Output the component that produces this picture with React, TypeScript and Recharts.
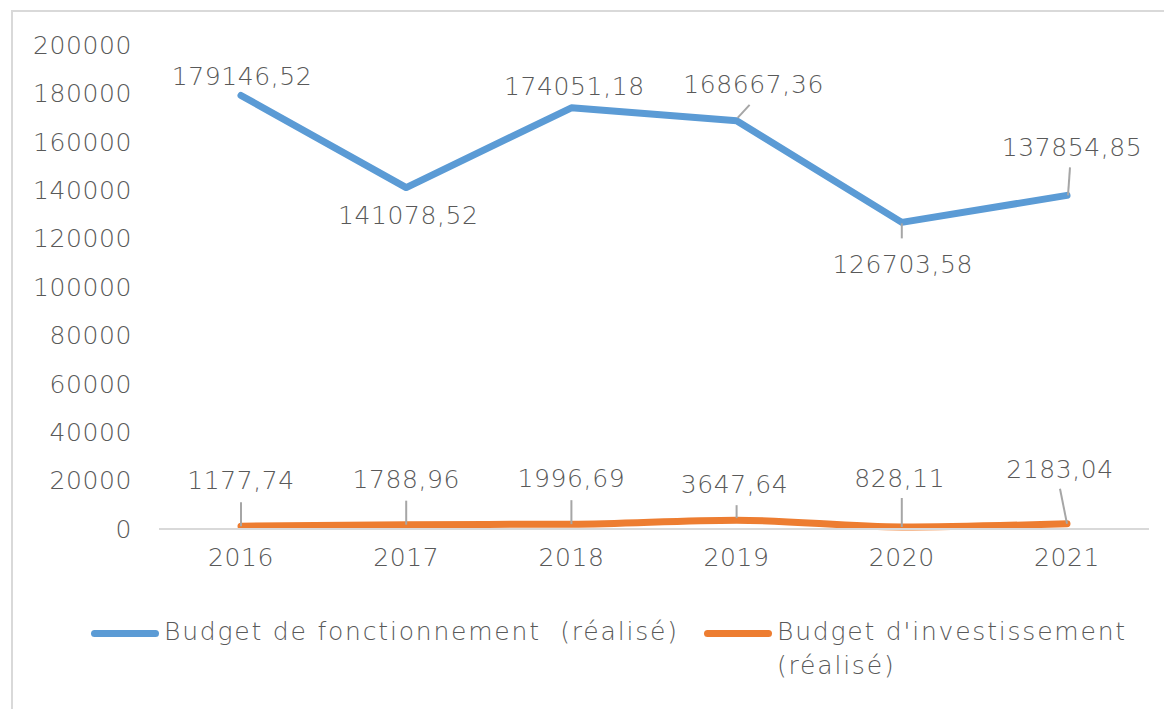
import { LineChart, Line, XAxis, YAxis } from "recharts";

const years = ["2016", "2017", "2018", "2019", "2020", "2021"];
const fonctionnement = [179146.52, 141078.52, 174051.18, 168667.36, 126703.58, 137854.85];
const investissement = [1177.74, 1788.96, 1996.69, 3647.64, 828.11, 2183.04];
const seriesNames = ["Budget de fonctionnement  (réalisé)", "Budget d'investissement (réalisé)"];
const yTicks = [0, 20000, 40000, 60000, 80000, 100000, 120000, 140000, 160000, 180000, 200000];

const BLUE = "#5B9BD5";
const ORANGE = "#ED7D31";
const TEXT = "#595959";
const LEADER = "#a6a6a6";
const FONT = "'DejaVu Sans', sans-serif";

const data = years.map((year, i) => ({
  year,
  fonctionnement: fonctionnement[i],
  investissement: investissement[i],
}));

// label placement per point: text offset + optional leader line (relative to point)
type Place = { dx: number; dy: number; leader?: [number, number, number, number] };

const bluePlaces: Place[] = [
  { dx: 1, dy: -10 },
  { dx: 2, dy: 36 },
  { dx: 3, dy: -13 },
  { dx: 17, dy: -28, leader: [1, -3, 13, -16] },
  { dx: 1, dy: 51, leader: [0, 1, 0, 16] },
  { dx: 5, dy: -39, leader: [1, 0, 3, -28] },
];

const orangePlaces: Place[] = [
  { dx: 0, dy: -37, leader: [0, 0, 0, -24] },
  { dx: 0, dy: -37, leader: [0, 0, 0, -24] },
  { dx: 0, dy: -37, leader: [0, 0, 0, -24] },
  { dx: -2, dy: -27, leader: [0, -2, 0, -15] },
  { dx: -2, dy: -40, leader: [0, 0, 0, -29] },
  { dx: -7, dy: -46, leader: [0, 0, -7, -35] },
];

const fmt = (v: number) => v.toFixed(2).replace(".", ",");

const makeLabel = (places: Place[]) => (props: any) => {
  const { x, y, index, value } = props;
  const p = places[index];
  return (
    <g key={`lbl-${index}`}>
      {p.leader && (
        <line
          x1={x + p.leader[0]}
          y1={y + p.leader[1]}
          x2={x + p.leader[2]}
          y2={y + p.leader[3]}
          stroke={LEADER}
          strokeWidth={2}
        />
      )}
      <text
        x={x + p.dx}
        y={y + p.dy}
        textAnchor="middle"
        fill={TEXT}
        fontSize={25}
        fontFamily={FONT}
        fontWeight={300}
        letterSpacing={0.6}
      >
        {fmt(value)}
      </text>
    </g>
  );
};

const LegendItem = ({ color, name, width }: { color: string; name: string; width: number }) => (
  <div style={{ display: "flex", alignItems: "flex-start" }}>
    <div
      style={{
        width: 68,
        height: 7,
        borderRadius: 4,
        background: color,
        marginTop: 15,
        marginRight: 5,
      }}
    />
    <div style={{ width, whiteSpace: "pre-wrap", lineHeight: "34px", letterSpacing: 1.8 }}>{name}</div>
  </div>
);

const tickStyle = { fill: TEXT, fontSize: 25, fontFamily: FONT, fontWeight: 300, letterSpacing: 0.6 };

export default function App() {
  return (
    <div
      style={{
        position: "relative",
        marginLeft: 3,
        marginTop: 2,
        width: 1170,
        height: 720,
        border: "2px solid #d9d9d9",
        boxSizing: "border-box",
        fontFamily: FONT,
        fontWeight: 300,
        color: TEXT,
        fontSize: 25,
      }}
    >
      <div style={{ position: "absolute", left: 0, top: 0 }}>
        <LineChart
          width={1150}
          height={577}
          data={data}
          margin={{ top: 33, right: 14, bottom: 0, left: 0 }}
        >
          <XAxis
            dataKey="year"
            axisLine={{ stroke: "#d9d9d9", strokeWidth: 2 }}
            tickLine={false}
            tickMargin={13}
            height={60}
            padding={{ left: 82, right: 82 }}
            tick={tickStyle}
          />
          <YAxis
            domain={[0, 200000]}
            ticks={yTicks}
            interval={0}
            axisLine={false}
            tickLine={false}
            width={146}
            tickMargin={21}
            tick={tickStyle}
          />
          <Line
            type="linear"
            dataKey="fonctionnement"
            name={seriesNames[0]}
            stroke={BLUE}
            strokeWidth={7}
            strokeLinecap="round"
            strokeLinejoin="round"
            dot={false}
            isAnimationActive={false}
            label={makeLabel(bluePlaces)}
          />
          <Line
            type="monotone"
            dataKey="investissement"
            name={seriesNames[1]}
            stroke={ORANGE}
            strokeWidth={7}
            strokeLinecap="round"
            strokeLinejoin="round"
            dot={false}
            isAnimationActive={false}
            label={makeLabel(orangePlaces)}
          />
        </LineChart>
      </div>
      <div style={{ position: "absolute", left: 78, top: 603 }}>
        <LegendItem color={BLUE} name={seriesNames[0]} width={560} />
      </div>
      <div style={{ position: "absolute", left: 691, top: 603 }}>
        <LegendItem color={ORANGE} name={seriesNames[1]} width={380} />
      </div>
    </div>
  );
}
